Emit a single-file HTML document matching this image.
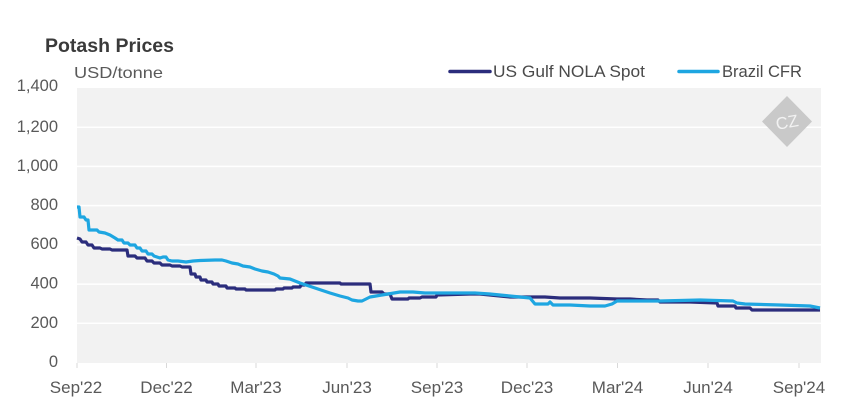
<!DOCTYPE html>
<html>
<head>
<meta charset="utf-8">
<style>
html,body{margin:0;padding:0;background:#fff;}
svg{display:block;}
text{font-family:"Liberation Sans",Arial,sans-serif;}
</style>
</head>
<body>
<svg width="859" height="416" viewBox="0 0 859 416" xmlns="http://www.w3.org/2000/svg">
  <rect x="0" y="0" width="859" height="416" fill="#ffffff"/>
  <!-- Title -->
  <text x="45" y="52" font-size="19" font-weight="bold" fill="#3a3a3a" textLength="129" lengthAdjust="spacingAndGlyphs">Potash Prices</text>
  <text x="74" y="78" font-size="16" fill="#595959" textLength="89" lengthAdjust="spacingAndGlyphs">USD/tonne</text>

  <!-- Legend -->
  <line x1="450" y1="71.5" x2="490" y2="71.5" stroke="#2b2d7c" stroke-width="3.5" stroke-linecap="round"/>
  <text x="493" y="77" font-size="17" fill="#4a4a4a" textLength="152" lengthAdjust="spacingAndGlyphs">US Gulf NOLA Spot</text>
  <line x1="679" y1="71.5" x2="718" y2="71.5" stroke="#1ea6e1" stroke-width="3.5" stroke-linecap="round"/>
  <text x="722" y="77" font-size="17" fill="#4a4a4a" textLength="80" lengthAdjust="spacingAndGlyphs">Brazil CFR</text>

  <!-- Plot background -->
  <rect x="77" y="88" width="744" height="275" fill="#f2f2f2"/>
  <!-- gridlines -->
  <g stroke="#ffffff" stroke-width="1.5">
    <line x1="77" y1="127.2" x2="821" y2="127.2"/>
    <line x1="77" y1="166.4" x2="821" y2="166.4"/>
    <line x1="77" y1="205.6" x2="821" y2="205.6"/>
    <line x1="77" y1="244.9" x2="821" y2="244.9"/>
    <line x1="77" y1="284.1" x2="821" y2="284.1"/>
    <line x1="77" y1="323.3" x2="821" y2="323.3"/>
  </g>

  <!-- Watermark -->
  <polygon points="787,96 812,121.5 787,147 762,121.5" fill="#c9c9c9"/>
  <text x="787" y="128" font-size="17" font-family="Liberation Serif, serif" fill="#f2f2f2" text-anchor="middle" transform="rotate(-10 787 122)">CZ</text>

  <!-- Y labels -->
  <g font-size="16.5" fill="#595959" text-anchor="end">
    <text x="58" y="91">1,400</text>
    <text x="58" y="132">1,200</text>
    <text x="58" y="171">1,000</text>
    <text x="58" y="210">800</text>
    <text x="58" y="249">600</text>
    <text x="58" y="288.5">400</text>
    <text x="58" y="328">200</text>
    <text x="58" y="367">0</text>
  </g>

  <!-- X ticks -->
  <g stroke="#d9d9d9" stroke-width="1">
    <line x1="77" y1="363" x2="77" y2="368"/>
    <line x1="166.5" y1="363" x2="166.5" y2="368"/>
    <line x1="256" y1="363" x2="256" y2="368"/>
    <line x1="347" y1="363" x2="347" y2="368"/>
    <line x1="437" y1="363" x2="437" y2="368"/>
    <line x1="527" y1="363" x2="527" y2="368"/>
    <line x1="617.5" y1="363" x2="617.5" y2="368"/>
    <line x1="708" y1="363" x2="708" y2="368"/>
    <line x1="799" y1="363" x2="799" y2="368"/>
  </g>
  <!-- X labels -->
  <g font-size="17" fill="#595959" text-anchor="middle">
    <text x="76" y="393">Sep'22</text>
    <text x="166.5" y="393">Dec'22</text>
    <text x="256" y="393">Mar'23</text>
    <text x="347" y="393">Jun'23</text>
    <text x="437" y="393">Sep'23</text>
    <text x="527" y="393">Dec'23</text>
    <text x="617.5" y="393">Mar'24</text>
    <text x="708" y="393">Jun'24</text>
    <text x="799" y="393">Sep'24</text>
  </g>

  <!-- US Gulf NOLA Spot -->
  <polyline fill="none" stroke="#2b2d7c" stroke-width="3.2" stroke-linejoin="round"
    points="77,238 80,239 82,242 86,242 88,245 92,245 94,248 100,248 102,249 110,249 112,250 127,250 128,256 135,256 137,258 145,258 147,261 152,261 154,263 160,263 162,265 170,265 172,266 180,266 182,267 190,267 191,274 195,274 196,277 200,277 201,280 206,280 207,282 212,282 213,284 218,284 219,286 226,286 227,288 235,288 236,289 245,289 246,290 275,290 276,289 283,289 284,288 292,288 293,287 300,287 301,285 305,285 306,283 340,283 341,284 370,284 371,292 382,292 384,294 390,294 392,299 408,299 409,298 420,298 422,297 436,297 437,295 470,294 480,294 490,295 500,296 510,297 527,297 545,297 560,298 590,298 617,299 630,299 647,300 658,300 660,302 690,302 717,303 718,306 735,306 736,308 750,308 752,310 790,310 820,310"/>

  <!-- Brazil CFR -->
  <polyline fill="none" stroke="#1ea6e1" stroke-width="3.2" stroke-linejoin="round"
    points="77,207 79,207 80,217 84,217 86,220 88,220 89,230 97,230 99,232 105,233 110,235 115,238 118,240 122,240 124,243 128,243 130,245 135,245 137,248 140,248 142,251 146,251 148,254 152,254 154,256 160,258 163,257 166,257 168,260 172,261 178,261 186,262 193,261 200,260.5 215,260 222,260 226,261 232,263 238,264 243,266 250,267 255,269 262,271 268,272 274,274 278,276 280,278 290,279 295,281 300,283 306,285 312,287 318,289 324,291 330,293 340,296 348,298 352,300 358,301 362,301 366,299 370,297 376,296 382,295 388,294 394,293 400,292 413,292 425,293 440,293 460,293 475,293 490,294 500,295 510,296 520,297 530,298 535,304 548,304 550,302 553,305 570,305 590,306 605,306 612,304 617,301 640,301 660,301 700,300 733,301 737,303 745,304 780,305 810,306 820,308"/>
</svg>
</body>
</html>
